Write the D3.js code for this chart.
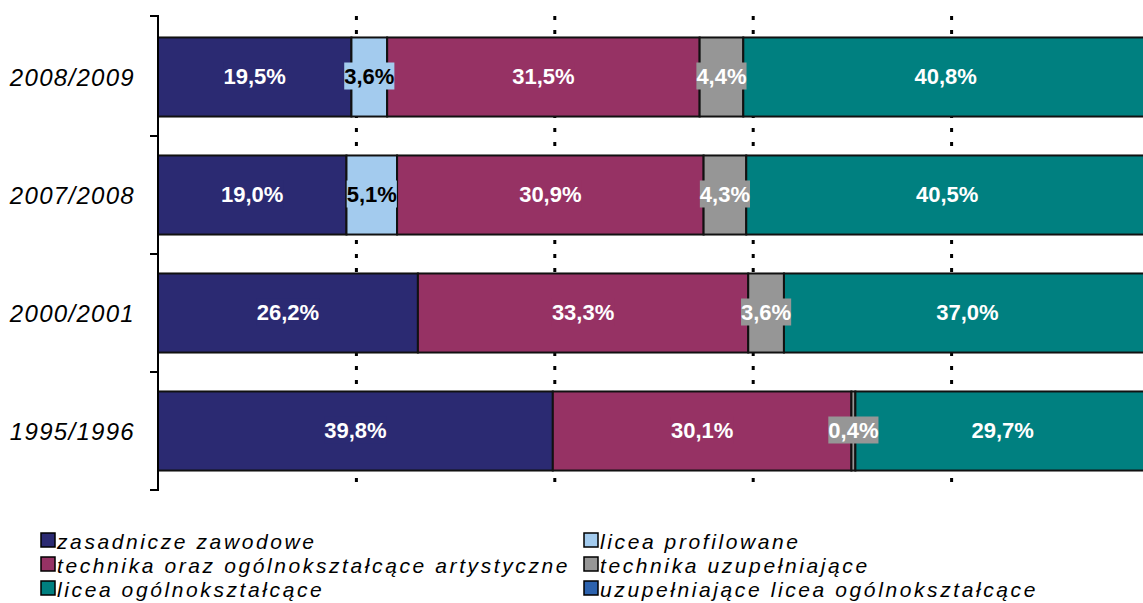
<!DOCTYPE html>
<html><head><meta charset="utf-8">
<script src="https://cdn.jsdelivr.net/npm/d3@7/dist/d3.min.js"></script>
<style>body{margin:0;background:#fff}svg{display:block}</style>
</head><body>
<svg id="c" width="1143" height="603"></svg>
<script>
const categories = ["2008/2009","2007/2008","2000/2001","1995/1996"];
const seriesNames = ["zasadnicze zawodowe","licea profilowane","technika oraz ogólnokształcące artystyczne","technika uzupełniające","licea ogólnokształcące","uzupełniające licea ogólnokształcące"];
const zasadnicze = [19.5, 19.0, 26.2, 39.8];
const liceaProfilowane = [3.6, 5.1, 0, 0];
const technika = [31.5, 30.9, 33.3, 30.1];
const technikaUzup = [4.4, 4.3, 3.6, 0.4];
const liceaOgolne = [40.8, 40.5, 37.0, 29.7];
const uzupLicea = [0, 0, 0, 0];
const colors = ["#2b2a72","#a3cbee","#963264","#969696","#008080","#2c62ae"];
const labelColors = ["#fff","#000","#fff","#fff","#fff","#fff"];
const gridTicks = [20,40,60,80];

const seriesValues = [zasadnicze, liceaProfilowane, technika, technikaUzup, liceaOgolne, uzupLicea];
const rows = categories.map((c,i)=>{const o={cat:c}; seriesNames.forEach((s,j)=>o[s]=seriesValues[j][i]); return o;});
const stack = d3.stack().keys(seriesNames)(rows);

const svg = d3.select("#c");
const x = d3.scaleLinear().domain([0,100]).range([158,1150]);
const y = d3.scaleBand().domain(categories).range([18,490]).paddingInner(0.33).paddingOuter(0.165);

// gridlines
svg.append("g").selectAll("line").data(gridTicks).join("line")
  .attr("x1",d=>x(d)).attr("x2",d=>x(d)).attr("y1",16).attr("y2",490)
  .attr("stroke","#000").attr("stroke-width",3).attr("stroke-dasharray","4,10");

// bars
const layers = svg.append("g").selectAll("g").data(stack).join("g")
  .attr("fill",(d,i)=>colors[i]);
layers.selectAll("rect").data(d=>d.filter(p=>p[1]-p[0]>0)).join("rect")
  .attr("x",d=>x(d[0])).attr("width",d=>x(d[1])-x(d[0]))
  .attr("y",d=>y(d.data.cat)).attr("height",y.bandwidth())
  .attr("stroke","#111").attr("stroke-width",2);

// labels
const fmt = v => d3.format(".1f")(v).replace(".",",")+"%";
stack.forEach((layer,i)=>{
  layer.forEach(p=>{
    const v = p[1]-p[0];
    if(!(v>0)) return;
    const cx = (x(p[0])+x(p[1]))/2, cy = y(p.data.cat)+y.bandwidth()/2 - 1;
    const g = svg.append("g");
    const t = g.append("text").attr("x",cx).attr("y",cy).attr("text-anchor","middle")
      .attr("dominant-baseline","central")
      .attr("font-family","Liberation Sans, Arial, sans-serif").attr("font-weight","bold")
      .attr("font-size",22).attr("fill",labelColors[i]).text(fmt(v));
    const bb = t.node().getBBox();
    g.insert("rect","text").attr("x",bb.x).attr("y",cy-13.5).attr("width",bb.width).attr("height",27)
      .attr("fill",colors[i]);
  });
});

// axis
const ax = svg.append("g");
ax.append("line").attr("x1",158).attr("x2",158).attr("y1",15).attr("y2",491).attr("stroke","#000").attr("stroke-width",2);
const bounds = categories.map(c=>y(c)-y.step()*y.paddingInner()/2).concat([490]);
bounds[0]=16;
ax.selectAll("line.t").data(bounds).join("line").attr("class","t")
  .attr("x1",150).attr("x2",158).attr("y1",d=>d).attr("y2",d=>d).attr("stroke","#000").attr("stroke-width",2);
ax.selectAll("text").data(categories).join("text")
  .attr("x",135).attr("y",d=>y(d)+y.bandwidth()/2).attr("text-anchor","end").attr("dominant-baseline","central")
  .attr("font-family","Liberation Sans, Arial, sans-serif").attr("font-style","italic").attr("font-size",24)
  .attr("letter-spacing",1.3).attr("fill","#000").text(d=>d);

// legend
const legendPos = [[40,540],[583,540],[40,564],[583,564],[40,588],[583,588]];
const lg = svg.append("g").selectAll("g").data(seriesNames).join("g")
  .attr("transform",(d,i)=>`translate(${legendPos[i][0]},${legendPos[i][1]})`);
lg.append("rect").attr("x",1).attr("y",-7).attr("width",14).attr("height",14)
  .attr("fill",(d,i)=>colors[i]).attr("stroke","#000").attr("stroke-width",1.5);
lg.append("text").attr("x",17).attr("y",1).attr("dominant-baseline","central")
  .attr("font-family","Liberation Sans, Arial, sans-serif").attr("font-style","italic").attr("font-size",21)
  .attr("letter-spacing",2.6).attr("fill","#000").text(d=>d);
</script>
</body></html>
